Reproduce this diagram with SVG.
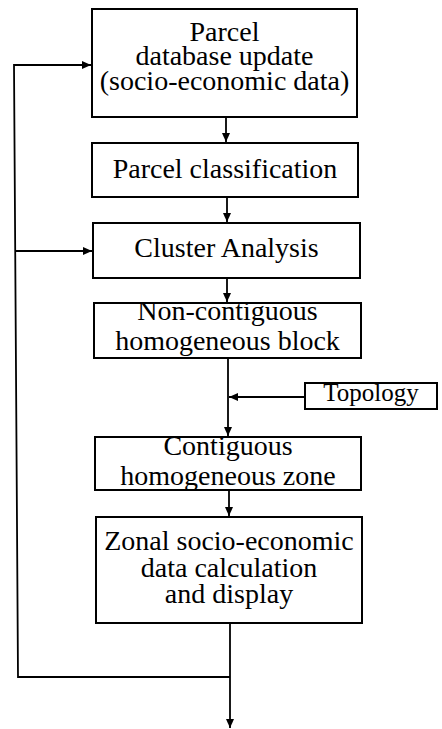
<svg xmlns="http://www.w3.org/2000/svg" width="442" height="729" viewBox="0 0 442 729">
<style>
.box{fill:#fff;stroke:#000;stroke-width:2}
.t{font-family:"Liberation Serif","Times New Roman",serif;font-size:28px;fill:#000;text-anchor:middle}
.c{fill:none;stroke:#000;stroke-width:1.8}
</style>
<defs>
<marker id="ah" markerUnits="userSpaceOnUse" markerWidth="10" markerHeight="8" refX="9" refY="4" orient="auto">
<path d="M0,0 L9,4 L0,8 Z" fill="#000"/>
</marker>
</defs>
<rect width="442" height="729" fill="#fff"/>
<g id="connectors">
<line class="c" x1="226" y1="117" x2="226" y2="142" marker-end="url(#ah)"/>
<line class="c" x1="227" y1="197" x2="227" y2="222" marker-end="url(#ah)"/>
<line class="c" x1="227" y1="278" x2="227" y2="302" marker-end="url(#ah)"/>
<line class="c" x1="228" y1="358" x2="228" y2="436" marker-end="url(#ah)"/>
<line class="c" x1="305" y1="397" x2="229" y2="397" marker-end="url(#ah)"/>
<line class="c" x1="229" y1="490" x2="229" y2="516" marker-end="url(#ah)"/>
<line class="c" x1="230" y1="623" x2="230" y2="728" marker-end="url(#ah)"/>
<polyline class="c" points="230,677 18,677 14,65 91,65" marker-end="url(#ah)"/>
<line class="c" x1="15" y1="251" x2="92" y2="251" marker-end="url(#ah)"/>
</g>
<g id="n1">
<rect class="box" x="92" y="9" width="265" height="108"/>
<text class="t" x="224.5" y="41">Parcel</text>
<text class="t" x="224.5" y="65">database update</text>
<text class="t" x="224.5" y="90">(socio-economic data)</text>
</g>
<g id="n2">
<rect class="box" x="92" y="143" width="266" height="54"/>
<text class="t" x="225" y="178">Parcel classification</text>
</g>
<g id="n3">
<rect class="box" x="93" y="223" width="267" height="55"/>
<text class="t" x="226.5" y="257">Cluster Analysis</text>
</g>
<g id="n4">
<rect class="box" x="94" y="303" width="267" height="55"/>
<text class="t" x="227.5" y="320">Non-contiguous</text>
<text class="t" x="227.5" y="350">homogeneous block</text>
</g>
<g id="n5">
<rect class="box" x="305" y="383" width="132" height="26"/>
<text class="t" x="371" y="401" style="font-size:25px">Topology</text>
</g>
<g id="n6">
<rect class="box" x="95" y="437" width="266" height="53"/>
<text class="t" x="228" y="455">Contiguous</text>
<text class="t" x="228" y="485">homogeneous zone</text>
</g>
<g id="n7">
<rect class="box" x="96" y="517" width="266" height="106"/>
<text class="t" x="229" y="550">Zonal socio-economic</text>
<text class="t" x="229" y="577">data calculation</text>
<text class="t" x="229" y="603">and display</text>
</g>
</svg>
